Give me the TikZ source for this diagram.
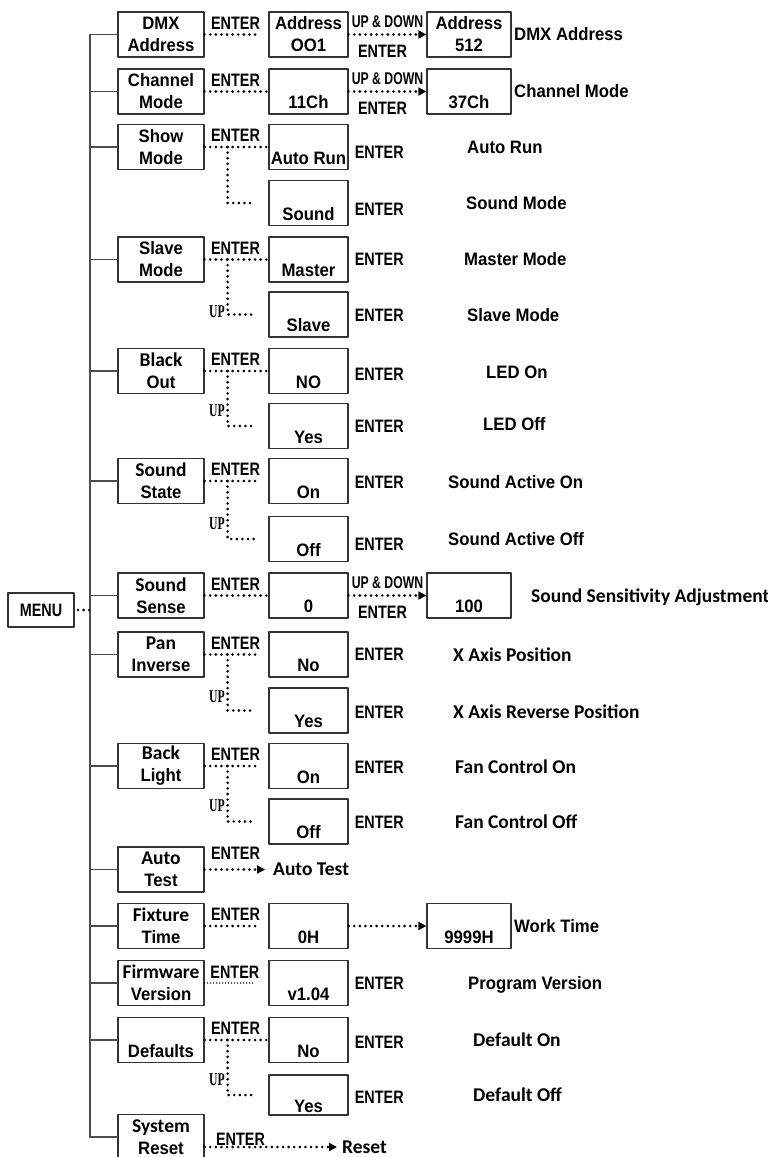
\documentclass[tikz,border=0pt]{standalone}
\usepackage{fontspec}
\setmainfont{Liberation Sans}[FakeStretch=0.93]
\newfontfamily\narrowf{Liberation Sans}[FakeStretch=0.8]
\newfontfamily\tightf{Liberation Sans}[FakeStretch=0.72]
\newfontfamily\calibri{Carlito}
\newfontfamily\upserif{Liberation Serif}[FakeStretch=0.65]
\usetikzlibrary{arrows.meta}
\newcommand\calf{\calibri\fontsize{19.5}{22}\selectfont}
\newcommand\lowtxt[1]{\rule{0pt}{13pt}\\#1}
\begin{document}
\begin{tikzpicture}[x=1pt,y=-1pt,line cap=round,line join=round,
    font=\bfseries\fontsize{18}{22}\selectfont,
    >={Triangle[length=8pt,width=8pt]},
    box/.style={draw=black!80,line width=1.3pt,inner sep=0pt,minimum height=45pt,align=center},
    lbox/.style={box,minimum width=86pt},
    mbox/.style={box,minimum width=79pt},
    rbox/.style={box,minimum width=84pt},
    trunk/.style={black!70,line width=1.3pt},
    dots/.style={black,line width=2.9pt,dash pattern=on 0pt off 5.6pt},
    enter/.style={inner sep=0pt,font=\narrowf\bfseries\fontsize{18}{22}\selectfont},
    updown/.style={inner sep=0pt,font=\tightf\bfseries\fontsize{17}{17}\selectfont},
    upword/.style={inner sep=1.5pt,font=\upserif\bfseries\fontsize{18}{18}\selectfont},
    word/.style={inner sep=0pt,anchor=west}]
\useasboundingbox (0,0) rectangle (768,1157);

% menu and trunk
\node[box,minimum width=66pt,minimum height=34pt,line width=2pt,font=\narrowf\bfseries\fontsize{18}{22}\selectfont] (menu) at (41,610) {MENU};
\coordinate (ttop) at (90,34.5);
\coordinate (tbot) at (90,1137);
\draw[trunk] (ttop) -- (tbot);
\draw[dots,shorten <=3pt] (menu.east) -- (menu.east -| ttop);

% first level
\foreach \n/\y/\t in {dmx/34.5/DMX\\Address,chan/91.5/Channel\\Mode,show/147/Show\\Mode,slave/259.5/Slave\\Mode,
    black/371/{\calf Black\\Out},state/481/{\calf Sound\\State},sense/595.5/{\calf Sound\\Sense},
    pan/654.5/{\calf Pan\\Inverse},back/766/{\calf Back\\Light},test/869.5/{\calf Auto\\Test},
    fixt/926/{\calf Fixture\\Time},firm/983/{\calf Firmware\\Version},def/1040/{\calf\lowtxt{Defaults}},
    reset/1137/{\calf System\\Reset}}{
  \node[lbox] (\n) at (161,\y) {\t};
  \draw[trunk] (\n.west -| ttop) -- (\n.west);
}

% second level
\foreach \m/\y/\t in {a1/34.5/Address\\OO1,a2/91.5/\lowtxt{11Ch},a3/147/\lowtxt{Auto Run},a4/203/\lowtxt{Sound},
    a5/259.5/\lowtxt{Master},a6/314.5/\lowtxt{Slave},a7/371/{\calf\lowtxt{NO}},a8/426/{\calf\lowtxt{Yes}},
    a9/481/{\calf\lowtxt{On}},a10/539/{\calf\lowtxt{Off}},a11/595.5/{\calf\lowtxt{0}},a12/654.5/{\calf\lowtxt{No}},
    a13/710.5/{\calf\lowtxt{Yes}},a14/766/{\calf\lowtxt{On}},a15/821.5/{\calf\lowtxt{Off}},a17/926/\lowtxt{0H},
    a18/983/{\calf\lowtxt{v1.04}},a19/1040/{\calf\lowtxt{No}}}
  \node[mbox] (\m) at (308.5,\y) {\t};
\node[mbox,minimum height=40pt] (a20) at (308.5,1095) {\calf\lowtxt{Yes}};

% third level
\foreach \k/\y/\t in {b1/34.5/Address\\512,b2/91.5/\lowtxt{37Ch},b11/595.5/{\calf\lowtxt{100}},b17/926/{\narrowf\lowtxt{9999H}}}
  \node[rbox] (\k) at (469,\y) {\t};

% ENTER links
\foreach \n/\m/\s in {dmx/a1/9,chan/a2/2,show/a3/2,slave/a5/1,black/a7/0,state/a9/9,sense/a11/2,pan/a12/12,back/a14/13,fixt/a17/13,def/a19/1}
  \draw[dots,shorten >=\s pt] (\n.east) -- (\m.west) node[enter,pos=0,anchor=south west,xshift=5pt,yshift=4pt] (en\n) {ENTER};
\draw[dots,line width=1.6pt,dash pattern=on 0pt off 3pt,shorten >=14pt] (firm.east) -- (a18.west) node[enter,pos=0,anchor=south west,xshift=5pt,yshift=4pt] (enfirm) {ENTER};

% UP branches
\draw[dots,shorten >=13pt] (show.east) ++(23,0) |- (a4.west);
\foreach \n/\k/\p in {slave/a6/0.47,black/a8/0.36,state/a10/0.37,pan/a13/0.38,back/a15/0.36,def/a20/0.36}
  \draw[dots,shorten >=13pt] (\n.east) ++(23,0) |- (\k.west) node[upword,pos=\p,left] (up\n) {UP};

% UP & DOWN links
\foreach \m/\k in {a1/b1,a2/b2,a11/b11}
  \draw[dots,->] (\m) -- (\k) node[updown,midway,above=5pt] (ud\m) {UP \& DOWN} node[enter,midway,below=9pt,xshift=-5pt] (ent\m) {ENTER};
\draw[dots,->] (a17) -- (b17);

% ENTER after the second level
\foreach \m/\d in {a3/5,a4/6,a5/0,a6/1,a7/3,a8/0,a9/1,a10/5,a12/0,a13/1.5,a14/1,a15/0.5,a18/0,a19/2,a20/2}
  \node[enter,anchor=west] (e\m) at ([xshift=6pt,yshift=-\d pt]\m.east) {ENTER};

% results
\foreach \r/\x/\y/\t in {r1/514/34.5/DMX Address,r2/514/91.5/Channel Mode,r3/467/147/Auto Run,r4/466/203.5/Sound Mode,
    r5/464/259.5/Master Mode,r6/467/315/Slave Mode,r7/486/372/LED On,r8/483/424/LED Off,
    r9/448/482/Sound Active On,r10/448/539/Sound Active Off,r11/531/597/{\calf Sound Sensitivity Adjustment},
    r12/453/655/{\calf X Axis Position},r13/453/712/{\calf X Axis Reverse Position},r14/455/767/{\calf Fan Control On},
    r15/455/822/{\calf Fan Control Off},r17/514/926/Work Time,r18/468/985/Program Version,
    r19/473/1040/{\calf Default On},r20/473/1095/{\calf Default Off}}
  \node[word] (\r) at (\x,\y) {\t};

% direct actions
\node[word] (tl) at (273,869.5) {\calf Auto Test};
\node[word] (rl) at (342,1147) {\calf Reset};
\draw[dots,->,shorten >=8pt] (test.east) -- (tl.west) node[enter,pos=0,anchor=south west,xshift=5pt,yshift=9pt] (entest) {ENTER};
\draw[dots,->,shorten >=5pt] (rl.west -| reset.east) -- (rl.west) node[enter,pos=0,anchor=south west,xshift=10pt,yshift=0pt] (enreset) {ENTER};
\end{tikzpicture}
\end{document}
